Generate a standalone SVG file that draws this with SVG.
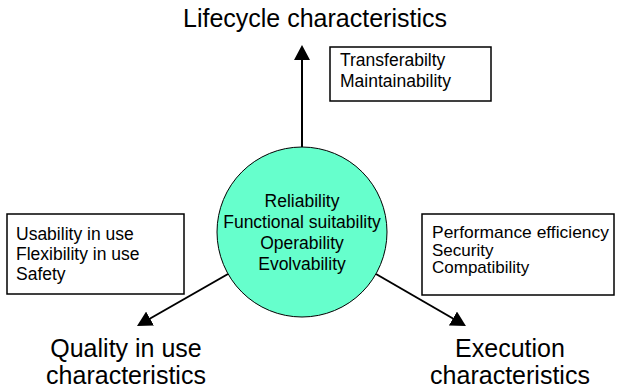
<svg xmlns="http://www.w3.org/2000/svg" width="619" height="390" viewBox="0 0 619 390">
<style>
text{font-family:"Liberation Sans",Arial,sans-serif;fill:#000}
.title{font-size:25px}
.box{fill:#fff;stroke:#000;stroke-width:1.5}
.bt{font-size:17.5px}
.bt2{font-size:17px}
.ct{font-size:17.5px;text-anchor:middle}
.conn{stroke:#000;stroke-width:2;fill:none}
</style>
<defs>
<marker id="arr" viewBox="0 0 15 16" refX="11" refY="8" markerWidth="15" markerHeight="16" markerUnits="userSpaceOnUse" orient="auto">
<path d="M0,0 L15,8 L0,16 Z" fill="#000"/>
</marker>
</defs>
<g id="connectors">
<line class="conn" x1="302" y1="147" x2="302" y2="49" marker-end="url(#arr)"/>
<line class="conn" x1="228" y1="274" x2="140.5" y2="324" marker-end="url(#arr)"/>
<line class="conn" x1="376" y1="274" x2="462.5" y2="324" marker-end="url(#arr)"/>
</g>
<g id="center">
<circle cx="302" cy="232" r="85" fill="#66FFCC" stroke="#000" stroke-width="1"/>
<text class="ct" x="302" y="207">Reliability</text>
<text class="ct" x="302" y="228">Functional suitability</text>
<text class="ct" x="302" y="249">Operability</text>
<text class="ct" x="302" y="270">Evolvability</text>
</g>
<g id="lifecycle">
<text class="title" x="315" y="27" text-anchor="middle">Lifecycle characteristics</text>
</g>
<g id="lifecycle-box">
<rect class="box" x="330" y="47" width="161" height="54"/>
<text class="bt" x="340" y="66">Transferabilty</text>
<text class="bt" x="340" y="87">Maintainability</text>
</g>
<g id="quality">
<text class="title" x="126" y="357" text-anchor="middle">Quality in use</text>
<text class="title" x="126" y="384" text-anchor="middle">characteristics</text>
</g>
<g id="quality-box">
<rect class="box" x="7" y="214" width="177" height="80"/>
<text class="bt" x="16" y="240">Usability in use</text>
<text class="bt" x="16" y="260">Flexibility in use</text>
<text class="bt" x="16" y="280">Safety</text>
</g>
<g id="execution">
<text class="title" x="510" y="357" text-anchor="middle">Execution</text>
<text class="title" x="510" y="384" text-anchor="middle">characteristics</text>
</g>
<g id="execution-box">
<rect class="box" x="422" y="214" width="192" height="81"/>
<text class="bt2" x="432" y="238" textLength="177" lengthAdjust="spacingAndGlyphs">Performance efficiency</text>
<text class="bt2" x="432" y="255.5">Security</text>
<text class="bt2" x="432" y="273">Compatibility</text>
</g>
</svg>
